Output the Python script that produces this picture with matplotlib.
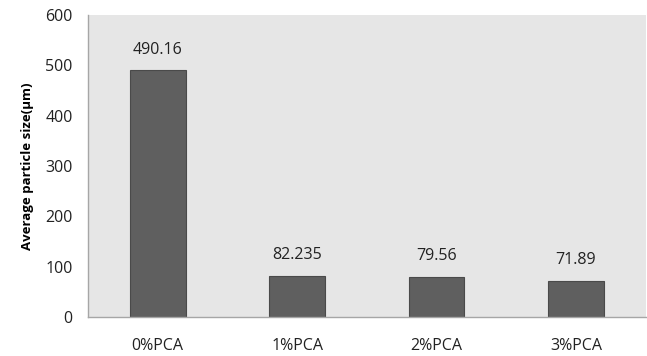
import matplotlib.pyplot as plt

categories = ['0%PCA', '1%PCA', '2%PCA', '3%PCA']
sizes = [490.16, 82.235, 79.56, 71.89]
size_labels = ['490.16', '82.235', '79.56', '71.89']

plt.rcParams['font.family'] = ['Open Sans', 'DejaVu Sans']

fig = plt.figure(figsize=(6.47, 3.56), dpi=100)
ax = fig.add_axes([0.136, 0.1096, 0.862, 0.848])
ax.set_facecolor('#e6e6e6')

x = range(len(categories))
ax.bar(x, sizes, width=0.4, color='#5f5f5f', edgecolor='#4a4a4a', linewidth=0.8, zorder=2)

for xi, v, lab in zip(x, sizes, size_labels):
    ax.annotate(lab, (xi, v), xytext=(0, 9), textcoords='offset points',
                ha='center', va='bottom', fontsize=11.5, color='#222222')

ax.set_xlim(-0.5, len(categories) - 0.5)
ax.set_ylim(0, 600)
ax.set_yticks(range(0, 601, 100))
ax.set_xticks(list(x))
ax.set_xticklabels(categories)
ax.tick_params(axis='both', length=0, labelsize=11.5, colors='#222222')
ax.tick_params(axis='x', pad=15)
ax.tick_params(axis='y', pad=11)

ax.set_ylabel('Average particle size(\u03bcm)', fontsize=9.5, fontweight='bold', labelpad=8)

for side in ['top', 'right']:
    ax.spines[side].set_visible(False)
for side in ['left', 'bottom']:
    ax.spines[side].set_color('#a6a6a6')
    ax.spines[side].set_linewidth(1.0)

fig.savefig('out.png', dpi=100)
